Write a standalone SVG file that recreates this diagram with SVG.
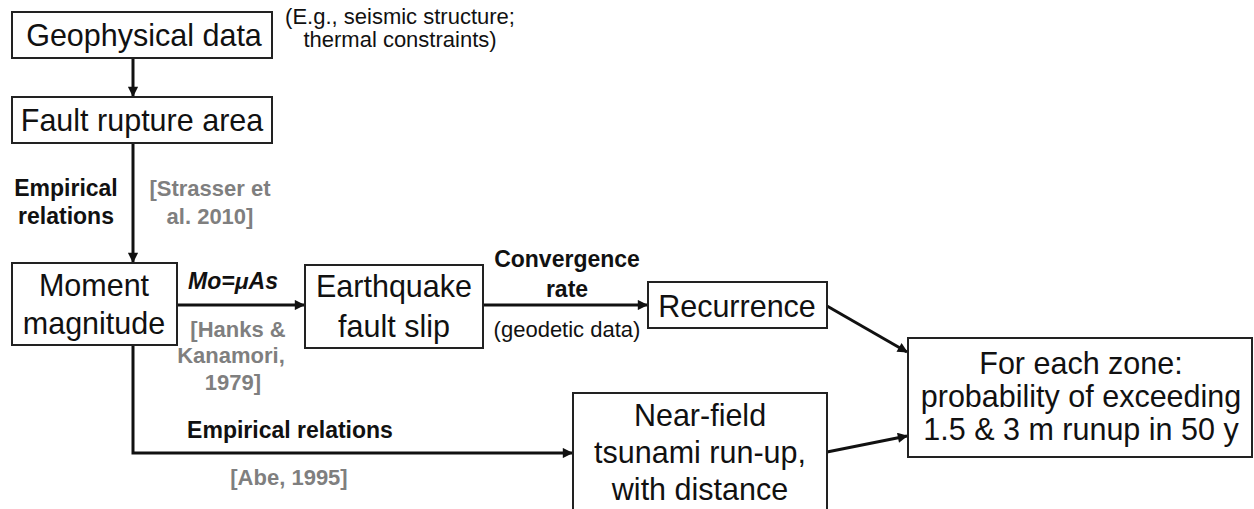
<svg xmlns="http://www.w3.org/2000/svg" width="1254" height="509" viewBox="0 0 1254 509">
<defs>
<style>
.box{fill:#fff;stroke:#222;stroke-width:2}
.t{font-family:"Liberation Sans",Arial,sans-serif;font-size:30.5px;fill:#111;text-anchor:middle}
.s{font-family:"Liberation Sans",Arial,sans-serif;font-size:22px;fill:#111;text-anchor:middle}
.b{font-family:"Liberation Sans",Arial,sans-serif;font-size:23px;font-weight:bold;fill:#111;text-anchor:middle}
.g{font-family:"Liberation Sans",Arial,sans-serif;font-size:22px;font-weight:bold;fill:#7f7f7f;text-anchor:middle}
.c{fill:none;stroke:#111;stroke-width:3;marker-end:url(#ah)}
</style>
<marker id="ah" viewBox="0 0 10 10" refX="9" refY="5" markerWidth="4" markerHeight="3.4" orient="auto" markerUnits="strokeWidth">
<path d="M0,0 L10,5 L0,10 z" fill="#111"/>
</marker>
</defs>
<rect width="1254" height="509" fill="#fff"/>

<g id="connectors">
<path class="c" d="M133,58 V96"/>
<path class="c" d="M133,143 V262"/>
<path class="c" d="M177,305 H304"/>
<path class="c" d="M483,305 H647"/>
<path class="c" d="M133,345 V453 H572"/>
<path class="c" d="M827,306 L907,352"/>
<path class="c" d="M827,452 L907,436"/>
</g>

<g id="labels">
<text class="b" x="66" y="196">Empirical</text>
<text class="b" x="66" y="224">relations</text>
<text class="g" x="210" y="196" font-size="23">[Strasser et</text>
<text class="g" x="210" y="224" font-size="23">al. 2010]</text>
<text class="b" x="233" y="289" font-style="italic" font-size="26">Mo=μAs</text>
<text class="g" x="238" y="337" font-size="23">[Hanks &amp;</text>
<text class="g" x="231" y="363">Kanamori,</text>
<text class="g" x="233" y="390">1979]</text>
<text class="b" x="567" y="267">Convergence</text>
<text class="b" x="567" y="297">rate</text>
<text class="s" x="567" y="337" font-size="23.5">(geodetic data)</text>
<text class="b" x="290" y="438" font-size="22">Empirical relations</text>
<text class="g" x="289" y="485">[Abe, 1995]</text>
<text class="s" x="400" y="24">(E.g., seismic structure;</text>
<text class="s" x="400" y="47">thermal constraints)</text>
</g>

<g id="geophysical">
<rect class="box" x="12" y="12" width="260" height="46"/>
<text class="t" x="144" y="46" font-size="29">Geophysical data</text>
</g>
<g id="fault-rupture">
<rect class="box" x="12" y="97" width="260" height="46"/>
<text class="t" x="142" y="131" font-size="29">Fault rupture area</text>
</g>
<g id="moment">
<rect class="box" x="12" y="263" width="165" height="82"/>
<text class="t" x="94" y="296" font-size="31.5">Moment</text>
<text class="t" x="94" y="334" font-size="31.5">magnitude</text>
</g>
<g id="slip">
<rect class="box" x="305" y="265" width="178" height="83"/>
<text class="t" x="394" y="297">Earthquake</text>
<text class="t" x="394" y="337">fault slip</text>
</g>
<g id="recurrence">
<rect class="box" x="648" y="282" width="179" height="46"/>
<text class="t" x="737" y="317">Recurrence</text>
</g>
<g id="nearfield">
<rect class="box" x="573" y="393" width="254" height="130"/>
<text class="t" x="700" y="426">Near-field</text>
<text class="t" x="700" y="463">tsunami run-up,</text>
<text class="t" x="700" y="500">with distance</text>
</g>
<g id="probability">
<rect class="box" x="908" y="338" width="344" height="119"/>
<text class="t" x="1081" y="374">For each zone:</text>
<text class="t" x="1081" y="407">probability of exceeding</text>
<text class="t" x="1081" y="440">1.5 &amp; 3 m runup in 50 y</text>
</g>
</svg>
